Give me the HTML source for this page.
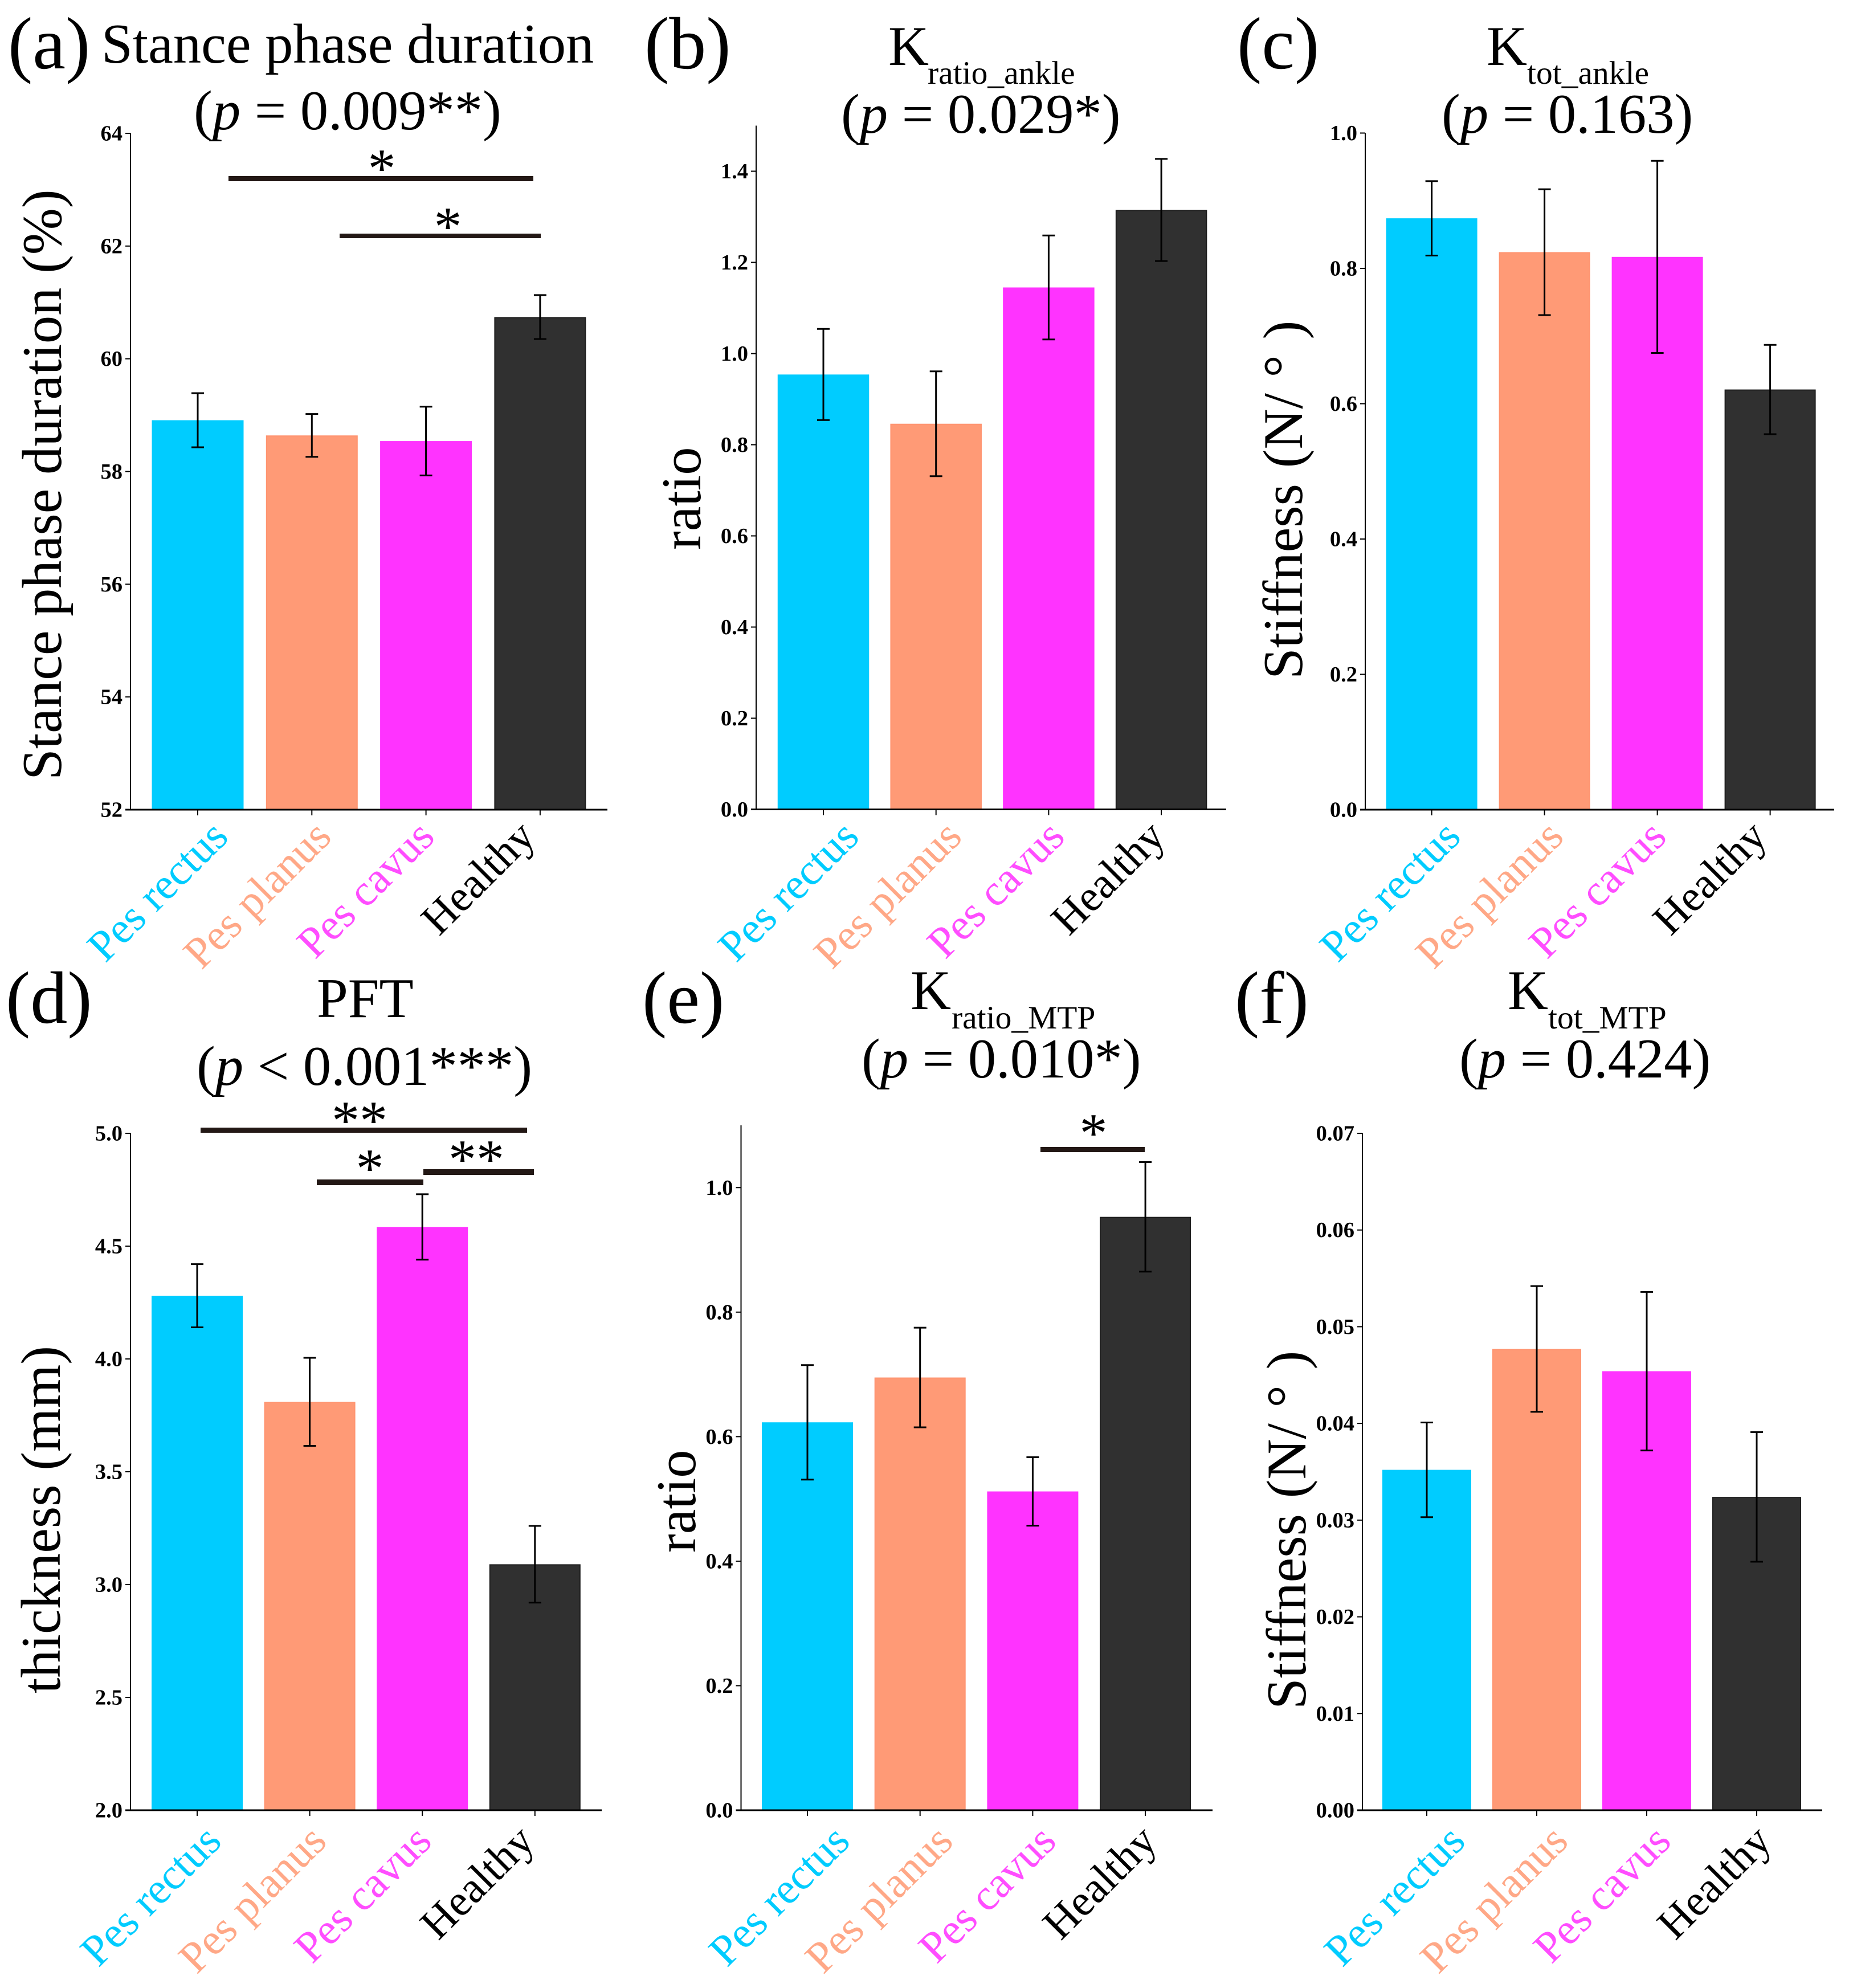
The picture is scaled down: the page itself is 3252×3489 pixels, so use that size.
<!DOCTYPE html>
<html lang="en">
<head>
<meta charset="utf-8">
<title>Gait parameters by foot type</title>
<style>
html,body{margin:0;padding:0;background:#fff;}
svg{display:block;}
text{font-family:"Liberation Serif",serif;fill:#000;}
.panel-letter{font-size:130px;}
.title{font-size:98.5px;}
.sub{font-size:57.5px;}
.axis-title{font-size:98.5px;}
.sig{font-size:98px;text-anchor:middle;}
.sig-line{fill:#231815;}
.tick-label{font-size:38.5px;font-weight:bold;text-anchor:end;}
.category-label{font-size:77px;text-anchor:end;}
</style>
</head>
<body>
<svg id="figure" xmlns="http://www.w3.org/2000/svg" width="3252" height="3489" viewBox="0 0 3252 3489">
  <rect x="0" y="0" width="3252" height="3489" fill="#fff"/>

  <!-- panel letters -->
  <text class="panel-letter" x="14" y="120">(a)</text>
  <text class="panel-letter" x="1131" y="120">(b)</text>
  <text class="panel-letter" x="2171" y="120">(c)</text>
  <text class="panel-letter" x="10" y="1795">(d)</text>
  <text class="panel-letter" x="1127" y="1795">(e)</text>
  <text class="panel-letter" x="2167" y="1795">(f)</text>

  <!-- titles -->
  <text class="title" x="178" y="110">Stance phase duration</text>
  <text class="title" x="340" y="227">(<tspan font-style="italic">p</tspan> = 0.009**)</text>

  <text class="title" x="1559" y="114">K</text>
  <text class="sub" x="1628" y="147">ratio_ankle</text>
  <text class="title" x="1476" y="233">(<tspan font-style="italic">p</tspan> = 0.029*)</text>

  <text class="title" x="2609" y="114">K</text>
  <text class="sub" x="2680" y="147">tot_ankle</text>
  <text class="title" x="2530" y="233">(<tspan font-style="italic">p</tspan> = 0.163)</text>

  <text class="title" x="556" y="1785">PFT</text>
  <text class="title" x="345" y="1904">(<tspan font-style="italic">p</tspan> &lt; 0.001***)</text>

  <text class="title" x="1598" y="1771">K</text>
  <text class="sub" x="1670" y="1805">ratio_MTP</text>
  <text class="title" x="1512" y="1891">(<tspan font-style="italic">p</tspan> = 0.010*)</text>

  <text class="title" x="2646" y="1771">K</text>
  <text class="sub" x="2717" y="1805">tot_MTP</text>
  <text class="title" x="2561" y="1891">(<tspan font-style="italic">p</tspan> = 0.424)</text>

  <!-- y axis titles -->
  <text class="axis-title" transform="translate(107 1369) rotate(-90)">Stance phase duration (%)</text>
  <text class="axis-title" transform="translate(1229 965) rotate(-90)">ratio</text>
  <text class="axis-title" transform="translate(2285 1192) rotate(-90)" xml:space="preserve" word-spacing="3">Stiffness (N/ ° )</text>
  <text class="axis-title" transform="translate(105 2972) rotate(-90)">thickness (mm)</text>
  <text class="axis-title" transform="translate(1220 2725) rotate(-90)">ratio</text>
  <text class="axis-title" transform="translate(2291 3000) rotate(-90)" xml:space="preserve" word-spacing="3">Stiffness (N/ ° )</text>

  <g id="charts"></g>

  <!-- significance annotations -->
  <rect class="sig-line" x="401" y="309" width="535" height="9"/>
  <text class="sig" x="670" y="328">*</text>
  <rect class="sig-line" x="596" y="410" width="353" height="8"/>
  <text class="sig" x="786" y="430">*</text>

  <rect class="sig-line" x="352" y="1979" width="573" height="9"/>
  <text class="sig" x="631" y="1999">**</text>
  <rect class="sig-line" x="556" y="2070" width="187" height="10"/>
  <text class="sig" x="649" y="2083">*</text>
  <rect class="sig-line" x="743" y="2052" width="194" height="10"/>
  <text class="sig" x="836" y="2067">**</text>

  <rect class="sig-line" x="1826" y="2013" width="183" height="9"/>
  <text class="sig" x="1919" y="2021">*</text>
</svg>

<script>
const categories = ['Pes rectus', 'Pes planus', 'Pes cavus', 'Healthy'];

const stanceValues = [58.91, 58.64, 58.54, 60.74];
const stanceErrors = [0.48, 0.38, 0.61, 0.39];
const stanceTicks = ['52', '54', '56', '58', '60', '62', '64'];

const ratioAnkleValues = [0.954, 0.846, 1.145, 1.315];
const ratioAnkleErrors = [0.1, 0.115, 0.114, 0.112];
const ratioAnkleTicks = ['0.0', '0.2', '0.4', '0.6', '0.8', '1.0', '1.2', '1.4'];

const totAnkleValues = [0.874, 0.824, 0.817, 0.621];
const totAnkleErrors = [0.055, 0.093, 0.142, 0.066];
const totAnkleTicks = ['0.0', '0.2', '0.4', '0.6', '0.8', '1.0'];

const pftValues = [4.28, 3.81, 4.585, 3.09];
const pftErrors = [0.14, 0.195, 0.145, 0.17];
const pftTicks = ['2.0', '2.5', '3.0', '3.5', '4.0', '4.5', '5.0'];

const ratioMtpValues = [0.623, 0.695, 0.512, 0.953];
const ratioMtpErrors = [0.092, 0.08, 0.055, 0.088];
const ratioMtpTicks = ['0.0', '0.2', '0.4', '0.6', '0.8', '1.0'];

const totMtpValues = [0.0352, 0.0477, 0.0454, 0.0324];
const totMtpErrors = [0.0049, 0.0065, 0.0082, 0.0067];
const totMtpTicks = ['0.00', '0.01', '0.02', '0.03', '0.04', '0.05', '0.06', '0.07'];

const barFills = ['#00CCFF', '#FF9A76', '#FF33FF', '#303030'];
const barStrokes = ['#00CCFF', '#FF9470', '#FF33FF', '#1E1E1E'];
const labelFills = ['#00CCFF', '#FFA887', '#FF4DFF', '#000000'];

const SVG_NS = 'http://www.w3.org/2000/svg';
const root = document.getElementById('charts');

function make(tag, attrs) {
  const el = document.createElementNS(SVG_NS, tag);
  Object.keys(attrs).forEach(function (k) { el.setAttribute(k, attrs[k]); });
  return el;
}

function drawChart(c) {
  const yOf = function (v) { return c.bottom - (v - c.min) / (c.max - c.min) * (c.bottom - c.top); };
  const xOf = function (i) { return c.first + i * c.step; };
  const g = make('g', {});
  
  
  root.appendChild(g);

  c.values.forEach(function (v, i) {
    const bar = make('rect', {
      x: xOf(i) - c.barWidth / 2 + 1, y: yOf(v) + 1,
      width: c.barWidth - 2, height: Math.max(0, c.bottom - yOf(v) - 1),
      fill: barFills[i], stroke: barStrokes[i], 'stroke-width': 2
    });
    
    
    g.appendChild(bar);
  });

  c.values.forEach(function (v, i) {
    const hi = yOf(v + c.errors[i]);
    const lo = yOf(v - c.errors[i]);
    const x = xOf(i);
    const stem = make('line', { x1: x, x2: x, y1: hi, y2: lo, stroke: '#000', 'stroke-width': 3 });
    
    
    g.appendChild(stem);
    const capTop = make('line', { x1: x - 11, x2: x + 11, y1: hi, y2: hi, stroke: '#000', 'stroke-width': 3 });
    
    
    g.appendChild(capTop);
    const capLow = make('line', { x1: x - 11, x2: x + 11, y1: lo, y2: lo, stroke: '#000', 'stroke-width': 3 });
    
    
    g.appendChild(capLow);
  });

  const ySpine = make('line', { x1: c.axisX, x2: c.axisX, y1: c.top, y2: c.bottom + 1, stroke: '#000', 'stroke-width': 2 });
  
  
  g.appendChild(ySpine);

  const xSpine = make('line', { x1: c.axisX - 9, x2: c.axisRight, y1: c.bottom, y2: c.bottom, stroke: '#000', 'stroke-width': 3 });
  
  
  g.appendChild(xSpine);

  c.ticks.forEach(function (label) {
    const y = yOf(parseFloat(label));
    const tick = make('line', { x1: c.axisX - 9, x2: c.axisX, y1: y, y2: y, stroke: '#000', 'stroke-width': 2 });
    
    
    g.appendChild(tick);
    const text = make('text', { 'class': 'tick-label', x: c.axisX - 14, y: y + 12.5 });
    
    
    text.textContent = label;
    g.appendChild(text);
  });

  categories.forEach(function (name, i) {
    const x = xOf(i);
    const tick = make('line', { x1: x, x2: x, y1: c.bottom, y2: c.bottom + 10, stroke: '#000', 'stroke-width': 2 });
    
    
    g.appendChild(tick);
    const ex = c.labelEndX + i * c.labelStep - (i === categories.length - 1 ? 4 : 0);
    const text = make('text', {
      'class': 'category-label', x: ex, y: c.labelEndY,
      transform: 'rotate(-45 ' + ex + ' ' + c.labelEndY + ')'
    });
    text.style.fill = labelFills[i];
    
    
    text.textContent = name;
    g.appendChild(text);
  });
}

drawChart({ values: stanceValues, errors: stanceErrors, ticks: stanceTicks, min: 52, max: 64,
  top: 234, bottom: 1421, axisX: 229, axisRight: 1066, first: 347, step: 200.3, barWidth: 161, labelEndX: 404, labelStep: 181, labelEndY: 1472 });
drawChart({ values: ratioAnkleValues, errors: ratioAnkleErrors, ticks: ratioAnkleTicks, min: 0, max: 1.5,
  top: 220.5, bottom: 1420.5, axisX: 1327, axisRight: 2152, first: 1445, step: 197.7, barWidth: 160.5, labelEndX: 1511, labelStep: 180.5, labelEndY: 1472 });
drawChart({ values: totAnkleValues, errors: totAnkleErrors, ticks: totAnkleTicks, min: 0, max: 1,
  top: 233.5, bottom: 1421, axisX: 2396, axisRight: 3219, first: 2512.6, step: 198, barWidth: 160, labelEndX: 2567, labelStep: 180.5, labelEndY: 1472 });
drawChart({ values: pftValues, errors: pftErrors, ticks: pftTicks, min: 2, max: 5,
  top: 1989, bottom: 3177, axisX: 229, axisRight: 1056, first: 346, step: 197.6, barWidth: 160, labelEndX: 392, labelStep: 184.5, labelEndY: 3235 });
drawChart({ values: ratioMtpValues, errors: ratioMtpErrors, ticks: ratioMtpTicks, min: 0, max: 1.1,
  top: 1975, bottom: 3177, axisX: 1300.5, axisRight: 2128, first: 1417, step: 197.7, barWidth: 160, labelEndX: 1495, labelStep: 181, labelEndY: 3235 });
drawChart({ values: totMtpValues, errors: totMtpErrors, ticks: totMtpTicks, min: 0, max: 0.07,
  top: 1989, bottom: 3177, axisX: 2391, axisRight: 3198, first: 2504, step: 193, barWidth: 156, labelEndX: 2575, labelStep: 180.5, labelEndY: 3235 });
</script>
</body>
</html>
